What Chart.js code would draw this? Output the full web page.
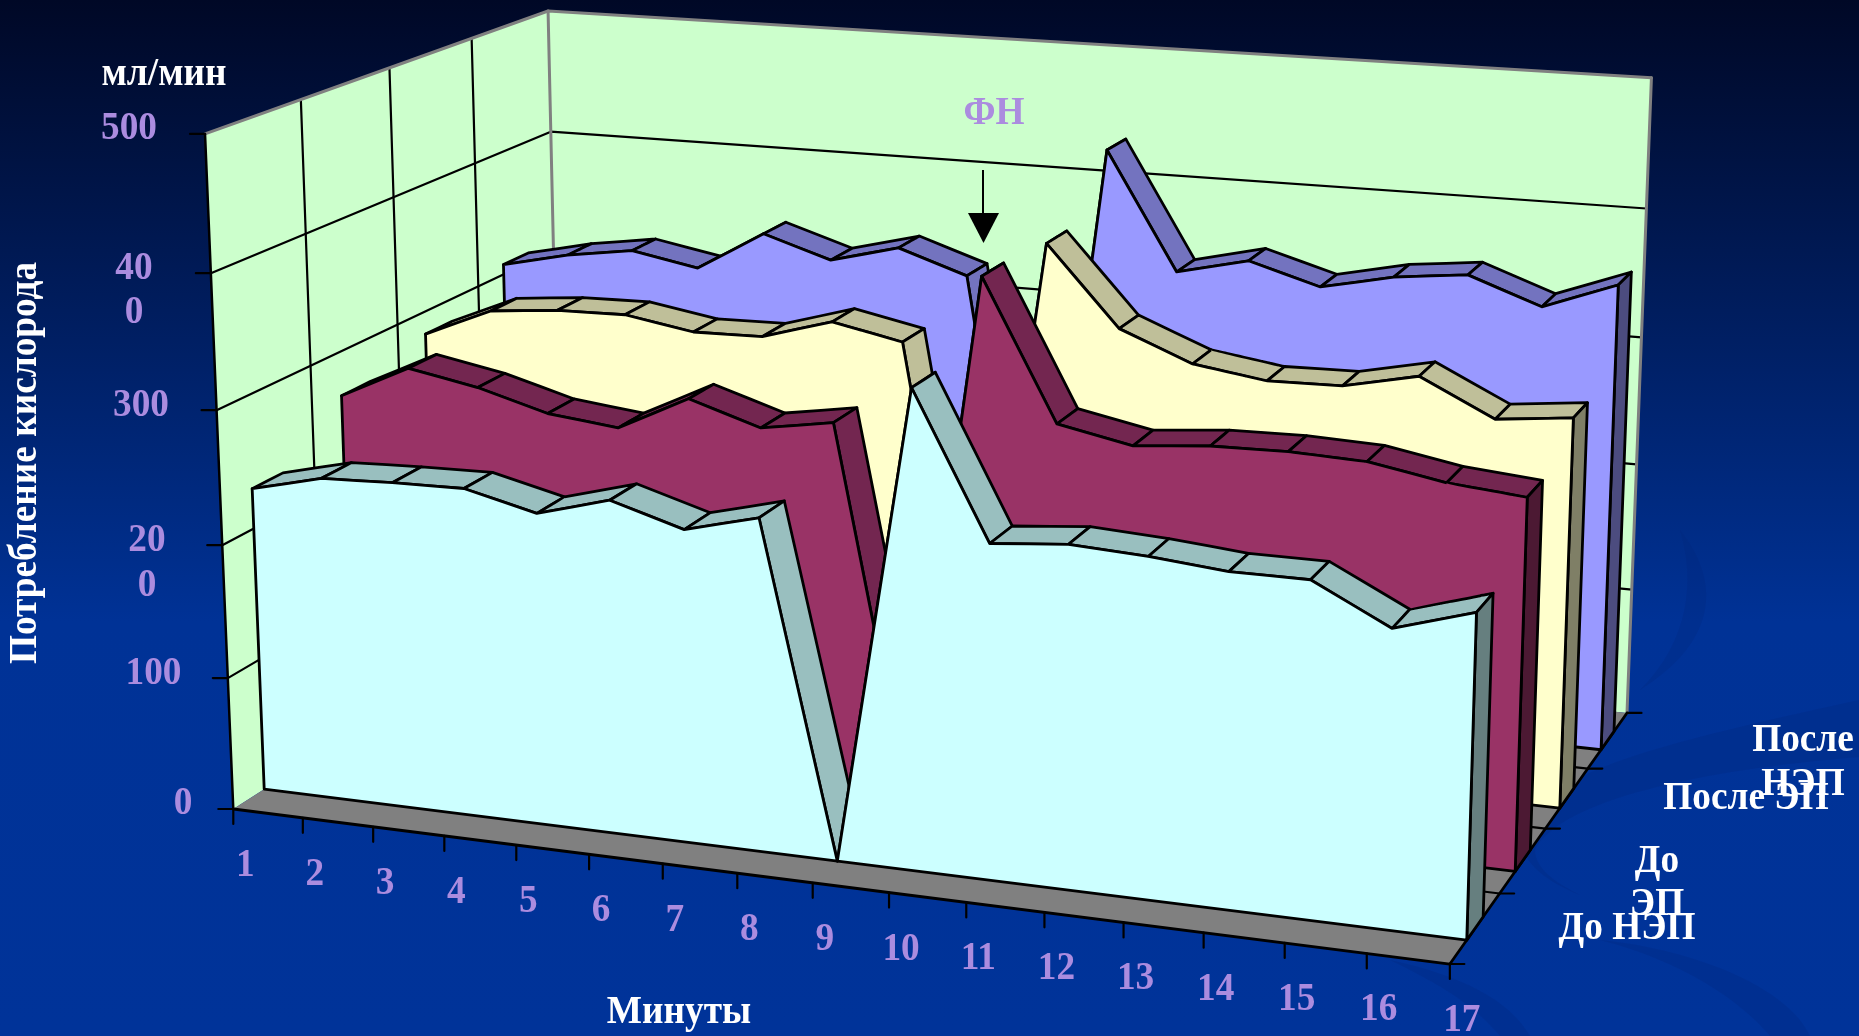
<!DOCTYPE html>
<html><head><meta charset="utf-8">
<style>html,body{margin:0;padding:0;background:#003399}canvas{display:block}</style>
<script src="https://cdn.jsdelivr.net/npm/chart.js@4"></script>
</head><body><canvas id="c" width="1859" height="1036"></canvas>
<script>
// ---------- data ----------
const minutes = [1,2,3,4,5,6,7,8,9,10,11,12,13,14,15,16,17];
const valueTicks = [0,100,200,300,400,500];
const seriesNames = ["До НЭП","До ЭП","После ЭП","После НЭП"];
const doNEP    = [230,243,245,246,233,248,232,246,0,349,244,249,246,241,241,213,230];
const doEP     = [266,292,282,267,261,288,271,280,0,397,294,283,288,289,287,277,272];
const posleEP  = [282,305,310,311,302,303,319,308,0,392,332,310,302,303,315,288,294];
const posleNEP = [308,320,328,318,350,333,347,329,0,436,345,358,342,354,360,340,361];
const seriesValues = [doNEP,doEP,posleEP,posleNEP];
const faceColors = ["#CCFFFF","#993366","#FFFFCC","#9999FF"];
const topColors  = ["#99BFBF","#732650","#BFBF99","#7373BF"];
const capColors  = ["#667F7F","#4C1933","#7F7F66","#4C4C7F"];
const wallColor = "#CCFFCC", floorColor = "#808080", edgeGray = "#808080";
const labelColor = "#AB8CDF";
const valueMax = 500;

// ---------- view of the 3-D box (vanishing points of the three axes) ----------
const O = [233.3,809];
const VX = [-11978,-747], KX = -0.0906;
const VY = [2655,-744],   KY = 0.1567;
const VZ = [958,18111],   KZ = -0.03755;
function proj(X,Y,Z){
  const w = 1 + KX*X + KY*Y + KZ*Z;
  return {
    x:(O[0] + KX*X*VX[0] + KY*Y*VY[0] + KZ*Z*VZ[0])/w,
    y:(O[1] + KX*X*VX[1] + KY*Y*VY[1] + KZ*Z*VZ[1])/w
  };
}
const N = minutes.length;
const mx = m => (m-minutes[0])/(minutes[N-1]-minutes[0]);
const mz = v => v/valueMax;
const D_FRONT = 0.33, D_BACK = 0.66, CATS = seriesNames.length;

// ---------- datasets: every polygon / line goes through the chart's scales ----------
const datasets = [];
function add(points, opt){
  opt = opt||{};
  const pts = points.slice();
  if(opt.fill) pts.push(points[0]);
  datasets.push({
    label: opt.label||"",
    data: pts,
    polyFill: opt.fill||null,
    borderColor: opt.stroke||"#000",
    borderWidth: opt.lw===undefined?2.8:opt.lw,
    showLine: (opt.lw!==0),
    fill:false, pointRadius:0, tension:1e-6,
    borderJoinStyle:"round", borderCapStyle:"round",
    order: 100000-datasets.length
  });
}
// walls & floor
const A=proj(0,0,0),B=proj(1,0,0),C=proj(1,1,0),D=proj(0,1,0),E=proj(0,0,1),F=proj(0,1,1),G=proj(1,1,1);
add([A,D,F,E],{fill:wallColor,lw:0});
add([D,C,G,F],{fill:wallColor,lw:0});
add([A,B,C,D],{fill:floorColor,lw:0});
// value grid lines on the walls
valueTicks.slice(1,-1).forEach(v=>add([proj(0,0,mz(v)),proj(0,1,mz(v)),proj(1,1,mz(v))],{lw:2.2}));
// depth grid lines
for(let i=1;i<CATS;i++){
  const y=i/CATS;
  add([proj(0,y,0),proj(0,y,1)],{lw:2.2});
  add([proj(0,y,0),proj(1,y,0)],{lw:2.2});
}
// box edges
add([D,F],{stroke:edgeGray,lw:3});
add([E,F,G],{stroke:edgeGray,lw:3});
add([C,G],{stroke:edgeGray,lw:3});
add([A,E],{lw:2.5});
add([A,B],{lw:2.8});
add([B,C],{lw:2.8});
// axis ticks
const off=(p,dx,dy)=>({x:p.x+dx,y:p.y+dy});
valueTicks.forEach(v=>{const p=proj(0,0,mz(v));add([p,off(p,-15,0)],{lw:2.2});});
minutes.forEach(m=>{const p=proj(mx(m),0,0);add([p,off(p,0,15)],{lw:2.2});});
for(let i=0;i<=CATS;i++){const p=proj(1,i/CATS,0);add([p,off(p,14.5,0)],{lw:2.2});}
// area series, back to front
for(let s=CATS-1;s>=0;s--){
  const vals=seriesValues[s];
  const yf=(s+D_FRONT)/CATS, yb=(s+D_BACK)/CATS;
  for(let i=0;i<N-1;i++){
    const x0=mx(minutes[i]),x1=mx(minutes[i+1]),z0=mz(vals[i]),z1=mz(vals[i+1]);
    add([proj(x0,yf,z0),proj(x1,yf,z1),proj(x1,yb,z1),proj(x0,yb,z0)],{fill:topColors[s],label:seriesNames[s]});
  }
  const zl=mz(vals[N-1]);
  add([proj(1,yf,0),proj(1,yf,zl),proj(1,yb,zl),proj(1,yb,0)],{fill:capColors[s],label:seriesNames[s]});
  const front=[proj(0,yf,0)];
  minutes.forEach((m,i)=>front.push(proj(mx(m),yf,mz(vals[i]))));
  front.push(proj(1,yf,0));
  add(front,{fill:faceColors[s],label:seriesNames[s]});
}

// ---------- text ----------
const SERIF='"Liberation Serif","Times New Roman",serif';
const STRETCH=1.06, FS=37.3;
function txt(ctx,s,x,y,size,color,align,rot){
  ctx.save();
  ctx.translate(x,y);
  if(rot) ctx.rotate(rot);
  ctx.scale(1,STRETCH);
  ctx.font='bold '+size+'px '+SERIF;
  ctx.fillStyle=color;
  ctx.textAlign=align||'center';
  ctx.textBaseline='alphabetic';
  ctx.fillText(s,0,0);
  ctx.restore();
}
const valueLabels=[["0",183,814],["100",153.5,684],["20",147,551],["0",147,596],["300",141,416],["40",134,279],["0",134,323],["500",129,139]];
const seriesLabels=[["После",1803,750.5],["НЭП",1803,794.5],["После ЭП",1746,808.5],["До",1657,871.5],["ЭП",1657,914.5],["До НЭП",1627,938.5]];

const deco={
  id:'deco',
  beforeDraw(chart){
    const c=chart.ctx,w=chart.width,h=chart.height;
    const g=c.createLinearGradient(0,0,0,h);
    g.addColorStop(0,'#000826');
    g.addColorStop(0.6,'#003296');
    g.addColorStop(1,'#003399');
    c.save();c.fillStyle=g;c.fillRect(0,0,w,h);
    c.fillStyle='rgba(0,36,120,0.22)';
    c.beginPath();c.moveTo(1859,757);c.bezierCurveTo(1700,770,1560,800,1535,850);c.bezierCurveTo(1535,870,1560,885,1580,895);c.bezierCurveTo(1520,870,1505,840,1545,800);c.bezierCurveTo(1590,760,1700,735,1859,700);c.closePath();c.fill();
    c.beginPath();c.moveTo(1600,940);c.bezierCurveTo(1700,950,1790,990,1810,1036);c.lineTo(1770,1036);c.bezierCurveTo(1740,1000,1680,960,1600,940);c.closePath();c.fill();
    c.beginPath();c.moveTo(1390,960);c.bezierCurveTo(1460,975,1510,1000,1530,1036);c.lineTo(1500,1036);c.bezierCurveTo(1470,1000,1430,980,1390,960);c.closePath();c.fill();
    c.beginPath();c.moveTo(1680,530);c.bezierCurveTo(1720,580,1720,640,1640,690);c.bezierCurveTo(1690,640,1695,580,1680,530);c.closePath();c.fill();
    c.restore();
  },
  beforeDatasetDraw(chart,args){
    const ds=chart.data.datasets[args.index];
    if(!ds.polyFill) return;
    const pts=args.meta.data,c=chart.ctx;
    c.save();c.beginPath();
    pts.forEach((p,i)=>i?c.lineTo(p.x,p.y):c.moveTo(p.x,p.y));
    c.closePath();c.fillStyle=ds.polyFill;c.fill();c.restore();
  },
  afterDatasetsDraw(chart){
    const c=chart.ctx;
    // arrow
    c.save();c.strokeStyle='#000';c.lineWidth=2;c.beginPath();c.moveTo(983,170);c.lineTo(983,214);c.stroke();
    c.fillStyle='#000';c.beginPath();c.moveTo(968,213);c.lineTo(999,213);c.lineTo(983.5,243);c.closePath();c.fill();c.restore();
    txt(c,"ФН",994,124,FS,labelColor);
    txt(c,"мл/мин",164,85,FS,'#fff');
    valueLabels.forEach(l=>txt(c,l[0],l[1],l[2],FS,labelColor));
    minutes.forEach(m=>{const p=proj(mx(m),0,0);txt(c,String(m),p.x+12,p.y+67,FS,labelColor);});
    seriesLabels.forEach(l=>txt(c,l[0],l[1],l[2],FS,'#fff'));
    txt(c,"Минуты",679,1022.5,FS,'#fff');
    txt(c,"Потребление кислорода",36,463,FS,'#fff','center',-Math.PI/2);
  }
};

new Chart(document.getElementById('c').getContext('2d'),{
  type:'scatter',
  data:{datasets},
  plugins:[deco],
  options:{
    responsive:false,animation:false,
    layout:{padding:0},
    plugins:{legend:{display:false},tooltip:{enabled:false},title:{display:false}},
    events:[],
    clip:false,
    scales:{
      x:{type:'linear',min:0,max:1859,display:false},
      y:{type:'linear',min:0,max:1036,reverse:true,display:false}
    }
  }
});
</script></body></html>
